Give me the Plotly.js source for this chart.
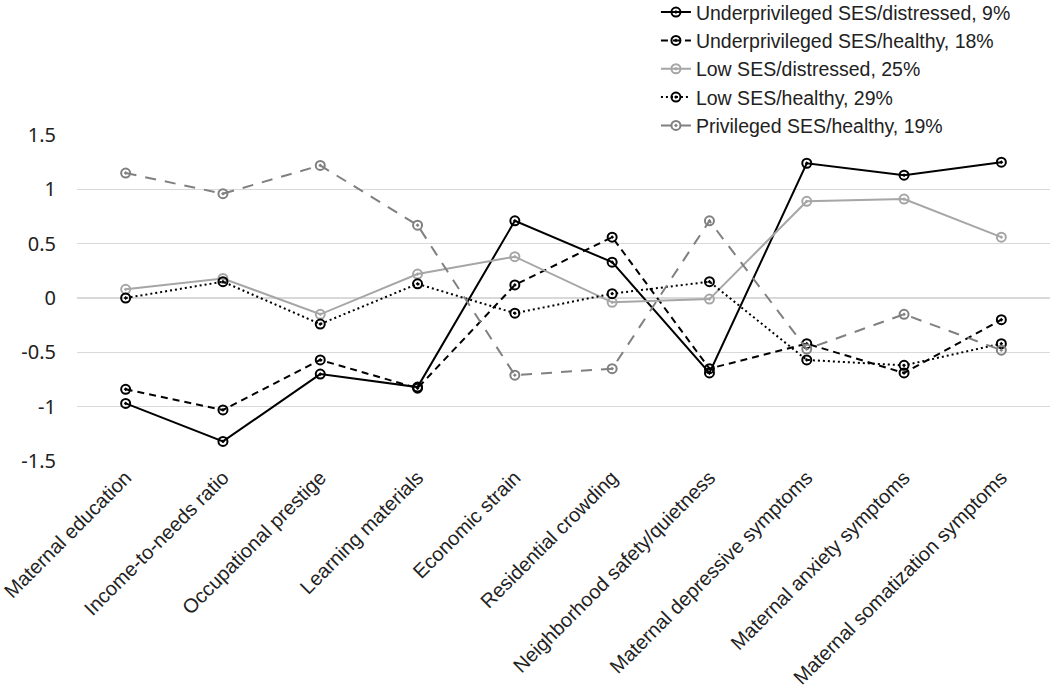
<!DOCTYPE html>
<html>
<head>
<meta charset="utf-8">
<script src="https://cdn.plot.ly/plotly-3.0.1.min.js"></script>
<style>html,body{margin:0;padding:0;background:#fff;}#chart{width:1050px;height:693px;}</style>
</head>
<body>
<div id="chart"></div>
<script>
const categories = [
  "Maternal education",
  "Income-to-needs ratio",
  "Occupational prestige",
  "Learning materials",
  "Economic strain",
  "Residential crowding",
  "Neighborhood safety/quietness",
  "Maternal depressive symptoms",
  "Maternal anxiety symptoms",
  "Maternal somatization symptoms"
];
const seriesNames = [
  "Underprivileged SES/distressed, 9%",
  "Underprivileged SES/healthy, 18%",
  "Low SES/distressed, 25%",
  "Low SES/healthy, 29%",
  "Privileged SES/healthy, 19%"
];
const underprivDistressed = [-0.97, -1.32, -0.70, -0.82, 0.71, 0.33, -0.69, 1.24, 1.13, 1.25];
const underprivHealthy    = [-0.84, -1.03, -0.57, -0.83, 0.12, 0.56, -0.65, -0.42, -0.69, -0.20];
const lowDistressed       = [0.08, 0.18, -0.15, 0.22, 0.38, -0.04, -0.01, 0.89, 0.91, 0.56];
const lowHealthy          = [0.00, 0.15, -0.24, 0.13, -0.14, 0.04, 0.15, -0.57, -0.62, -0.42];
const privHealthy         = [1.15, 0.96, 1.22, 0.67, -0.71, -0.65, 0.71, -0.47, -0.15, -0.48];
const yTicks = [-1.5, -1, -0.5, 0, 0.5, 1, 1.5];

const values = [underprivDistressed, underprivHealthy, lowDistressed, lowHealthy, privHealthy];
const styles = [
  {color: "#000000", dash: "solid"},
  {color: "#000000", dash: "7px,5px"},
  {color: "#a6a6a6", dash: "solid"},
  {color: "#000000", dash: "2px,3px"},
  {color: "#808080", dash: "11px,9px"}
];

const traces = values.map((v, i) => ({
  type: "scatter",
  mode: "lines+markers",
  x: categories,
  y: v,
  name: seriesNames[i],
  legendgroup: "g" + i,
  line: {color: styles[i].color, width: 2, dash: styles[i].dash},
  marker: {symbol: "circle-open-dot", size: 9, color: styles[i].color, line: {width: 2, color: styles[i].color}}
}));

const layout = {
  width: 1050,
  height: 693,
  margin: {l: 77, r: 0, t: 135, b: 232, autoexpand: false},
  paper_bgcolor: "#ffffff",
  plot_bgcolor: "#ffffff",
  showlegend: true,
  legend: {
    x: 0.595, y: 1.436, xanchor: "left", yanchor: "top",
    font: {family: "Liberation Sans, Arial, sans-serif", size: 19.5, color: "#222"},
    tracegroupgap: 0,
    bgcolor: "rgba(0,0,0,0)"
  },
  xaxis: {
    type: "category",
    tickangle: -45,
    showgrid: false,
    showline: false,
    zeroline: false,
    ticks: "",
    tickfont: {family: "Liberation Sans, Arial, sans-serif", size: 20, color: "#222"},
    range: [-0.5, 9.5]
  },
  yaxis: {
    range: [-1.5, 1.5],
    tickvals: yTicks,
    ticktext: yTicks.map(String),
    showgrid: true,
    gridcolor: "#d9d9d9",
    gridwidth: 1.5,
    zeroline: false,
    showline: false,
    ticks: "",
    ticklabelstandoff: 20,
    tickfont: {family: "Noto Sans, Open Sans, sans-serif", size: 20, color: "#222"}
  },
  font: {family: "Liberation Sans, Arial, sans-serif", color: "#222"}
};

Plotly.newPlot("chart", traces, layout, {displayModeBar: false, staticPlot: true});
</script>
</body>
</html>
